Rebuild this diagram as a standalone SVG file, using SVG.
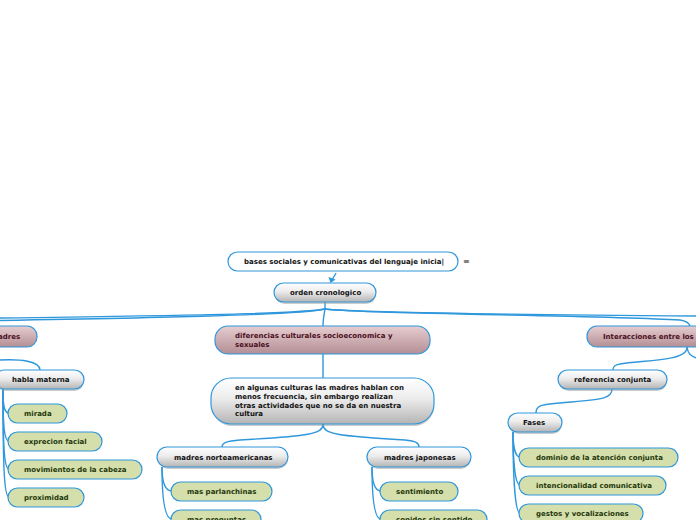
<svg xmlns="http://www.w3.org/2000/svg" width="696" height="520" viewBox="0 0 696 520">
<defs>
<linearGradient id="gGray" x1="0" y1="0" x2="0" y2="1">
<stop offset="0" stop-color="#ffffff"/><stop offset="0.45" stop-color="#ececec"/><stop offset="1" stop-color="#b4b4b4"/>
</linearGradient>
<linearGradient id="gPink" x1="0" y1="0" x2="0" y2="1">
<stop offset="0" stop-color="#e6cdd0"/><stop offset="1" stop-color="#b38e95"/>
</linearGradient>
</defs>
<style>
.gray{fill:url(#gGray);stroke:#2f97dc;stroke-width:1.2}
.pink{fill:url(#gPink);stroke:#2f97dc;stroke-width:1.2}
.green{fill:#d5dfab;stroke:#2f97dc;stroke-width:1.2}
.root{fill:#ffffff;stroke:#2f97dc;stroke-width:1.2}
.shadow{fill:#9a9a9a;opacity:0.5}
text{font-family:"DejaVu Sans",Verdana,sans-serif;font-size:7px;font-weight:bold}
.tg{fill:#111111}
.tp{fill:#4b0f1e}
.tn{fill:#1f380c}
.c{fill:none;stroke:#2f97dc;stroke-width:1.4}
</style>
<g id="connectors">
<path class="c" d="M325,302 L325,309"/>
<path class="c" d="M325,309 C300,314 150,316 0,318"/>
<path class="c" d="M325,309 C300,315 150,318 0,320.5"/>
<path class="c" d="M325,309 C324,315 323,320 323,326"/>
<path class="c" d="M325,309 C360,313 560,315 696,316"/>
<path class="c" d="M325,309 C360,314 600,315 680,320 C686,321 689,323 690,326"/>
<path class="c" d="M323,354 L323,378"/>
<path class="c" d="M323,424 C323,434 310,436 240,440 C226,441 222,443 222,447"/>
<path class="c" d="M323,424 C323,434 336,436 405,440 C416,441 419,443 419,447"/>
<path class="c" d="M0,360 C20,359 40,361 40,370"/>
<path class="c" d="M3,389 C3,405 4,413 9,413"/>
<path class="c" d="M3,389 C3,425 4,441 9,441"/>
<path class="c" d="M3,389 C3,445 4,469 9,469"/>
<path class="c" d="M3,389 C3,465 4,497 9,497"/>
<path class="c" d="M162,467 C162,480 164,491 172,491"/>
<path class="c" d="M162,467 C162,495 164,519 172,519"/>
<path class="c" d="M372,467 C372,480 374,491 381,491"/>
<path class="c" d="M372,467 C372,495 374,519 381,519"/>
<path class="c" d="M687,347 C688,362 640,360 620,364 C614,365 613,367 613,370"/>
<path class="c" d="M687,347 C688,355 692,356 696,358"/>
<path class="c" d="M612,389 C612,400 600,399 550,404 C538,405 536,408 536,413"/>
<path class="c" d="M513,432 C513,445 515,457 520,457"/>
<path class="c" d="M513,432 C513,460 515,485 520,485"/>
<path class="c" d="M513,432 C513,475 515,513 520,513"/>
<path class="c" d="M336,273 L332,280"/>
<path d="M328.5,277 L335.5,279.5 L330.5,283 Z" fill="#2f97dc"/>
</g>
<g id="root">
<rect class="root" x="228" y="252" width="230" height="19" rx="9.5"/>
<text class="tg" x="244" y="264">bases sociales y comunicativas del lenguaje inicia|</text>
<text class="tg" x="463" y="264" style="font-size:8px;font-weight:normal">≡</text>
</g>
<g id="orden">
<rect class="shadow" x="275" y="285" width="101" height="19" rx="9.5"/>
<rect class="gray" x="274" y="283" width="102" height="19" rx="9.5"/>
<text class="tg" x="290" y="295">orden cronologico</text>
</g>
<g id="madres">
<rect class="pink" x="-60" y="326" width="97" height="21" rx="10"/>
<text class="tp" x="-2" y="339">adres</text>
</g>
<g id="diferencias">
<rect class="pink" x="215" y="326" width="215" height="28" rx="13"/>
<text class="tp" x="235" y="338">diferencias culturales socioeconomica y</text>
<text class="tp" x="235" y="347">sexuales</text>
</g>
<g id="interacciones">
<rect class="pink" x="587" y="326" width="130" height="21" rx="10"/>
<text class="tp" x="603" y="339">Interacciones entre los</text>
</g>
<g id="culturas">
<rect class="shadow" x="212" y="380" width="222" height="46" rx="20"/>
<rect class="gray" x="211" y="378" width="223" height="46" rx="20"/>
<text class="tg" x="235" y="390">en algunas culturas las madres hablan con</text>
<text class="tg" x="235" y="399">menos frecuencia, sin embargo realizan</text>
<text class="tg" x="235" y="408">otras actividades que no se da en nuestra</text>
<text class="tg" x="235" y="416">cultura</text>
</g>
<g id="norteamericanas">
<rect class="shadow" x="158" y="449" width="130" height="20" rx="10"/>
<rect class="gray" x="157" y="447" width="131" height="20" rx="10"/>
<text class="tg" x="174" y="460">madres norteamericanas</text>
</g>
<g id="japonesas">
<rect class="shadow" x="368" y="449" width="103" height="20" rx="10"/>
<rect class="gray" x="367" y="447" width="104" height="20" rx="10"/>
<text class="tg" x="384" y="460">madres japonesas</text>
</g>
<g id="parlanchinas">
<rect class="green" x="171" y="482" width="101" height="19" rx="9.5"/>
<text class="tn" x="187" y="494">mas parlanchinas</text>
</g>
<g id="preguntas">
<rect class="green" x="171" y="510" width="90" height="19" rx="9.5"/>
<text class="tn" x="187" y="522">mas preguntas</text>
</g>
<g id="sentimiento">
<rect class="green" x="380" y="482" width="78" height="19" rx="9.5"/>
<text class="tn" x="396" y="494">sentimiento</text>
</g>
<g id="sonidos">
<rect class="green" x="380" y="510" width="107" height="19" rx="9.5"/>
<text class="tn" x="396" y="522">sonidos sin sentido</text>
</g>
<g id="habla">
<rect class="shadow" x="-4" y="372" width="88" height="19" rx="9.5"/>
<rect class="gray" x="-5" y="370" width="89" height="19" rx="9.5"/>
<text class="tg" x="12" y="382">habla materna</text>
</g>
<g id="mirada">
<rect class="green" x="8" y="404" width="59" height="19" rx="9.5"/>
<text class="tn" x="24" y="416">mirada</text>
</g>
<g id="exprecion">
<rect class="green" x="8" y="432" width="94" height="19" rx="9.5"/>
<text class="tn" x="24" y="444">exprecion facial</text>
</g>
<g id="movimientos">
<rect class="green" x="8" y="460" width="134" height="19" rx="9.5"/>
<text class="tn" x="24" y="472">movimientos de la cabeza</text>
</g>
<g id="proximidad">
<rect class="green" x="8" y="488" width="76" height="19" rx="9.5"/>
<text class="tn" x="24" y="500">proximidad</text>
</g>
<g id="referencia">
<rect class="shadow" x="559" y="372" width="108" height="19" rx="9.5"/>
<rect class="gray" x="558" y="370" width="109" height="19" rx="9.5"/>
<text class="tg" x="574" y="382">referencia conjunta</text>
</g>
<g id="fases">
<rect class="shadow" x="509" y="415" width="53" height="19" rx="9.5"/>
<rect class="gray" x="508" y="413" width="54" height="19" rx="9.5"/>
<text class="tg" x="523" y="425">Fases</text>
</g>
<g id="dominio">
<rect class="green" x="519" y="448" width="159" height="19" rx="9.5"/>
<text class="tn" x="536" y="460">dominio de la atención conjunta</text>
</g>
<g id="intencionalidad">
<rect class="green" x="519" y="476" width="147" height="19" rx="9.5"/>
<text class="tn" x="536" y="488">intencionalidad comunicativa</text>
</g>
<g id="gestos">
<rect class="green" x="519" y="504" width="124" height="19" rx="9.5"/>
<text class="tn" x="536" y="516">gestos y vocalizaciones</text>
</g>
</svg>
